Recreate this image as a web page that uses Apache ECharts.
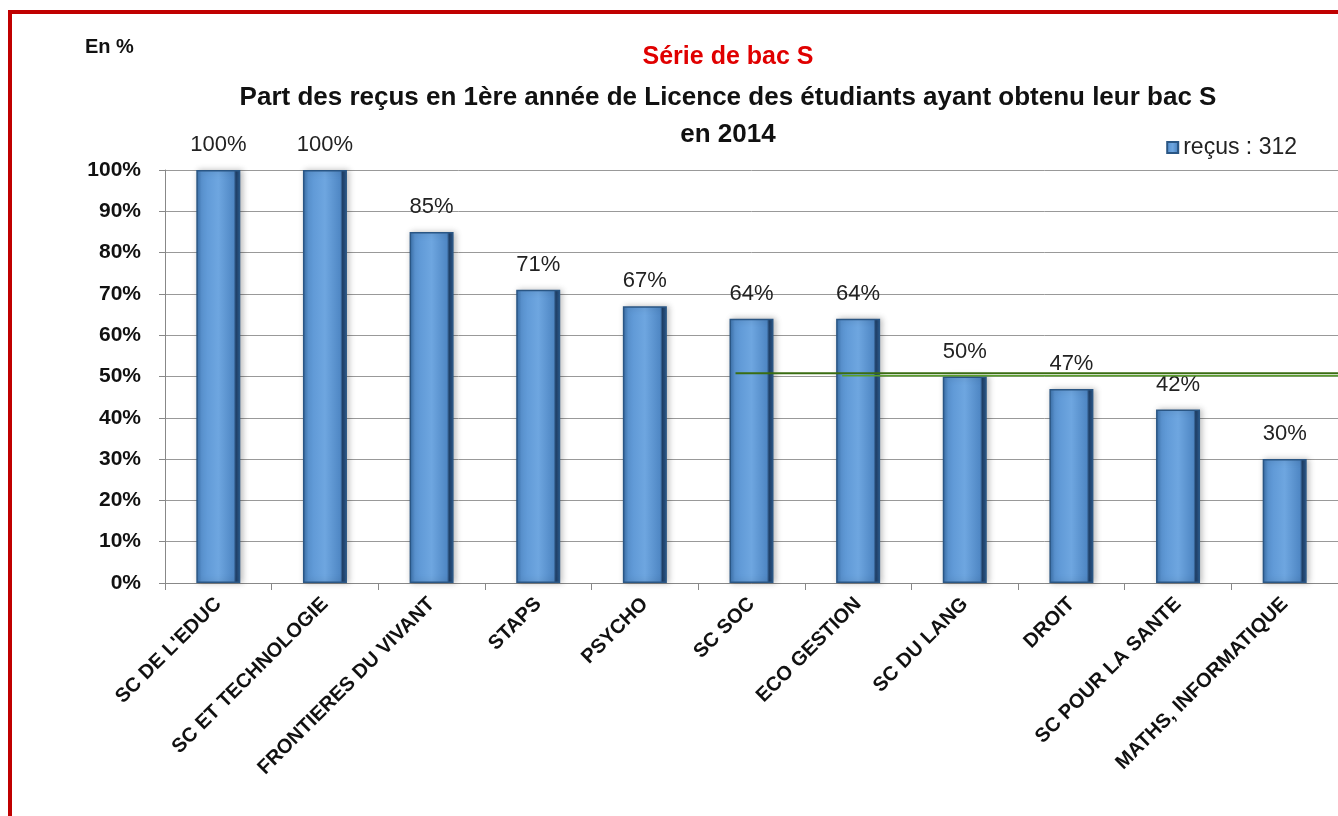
<!DOCTYPE html>
<html><head><meta charset="utf-8">
<script src="https://cdn.jsdelivr.net/npm/echarts@6/dist/echarts.min.js"></script>
<style>html,body{margin:0;padding:0;background:#fff;}#c{width:1338px;height:816px;}
#frame{position:absolute;left:8px;top:10px;width:1340px;height:820px;border:4px solid #c00000;box-sizing:border-box;pointer-events:none;}</style>
</head><body><div id="c"></div><div id="frame"></div>
<script>
const categories = ["SC DE L'EDUC","SC ET TECHNOLOGIE","FRONTIERES DU VIVANT","STAPS","PSYCHO","SC SOC","ECO GESTION","SC DU LANG","DROIT","SC POUR LA SANTE","MATHS, INFORMATIQUE"];
const recus = [100,100,85,71,67,64,64,50,47,42,30];
// reference lines drawn across the chart (category units on a hidden value axis, value in %)
const refLine1 = [[5.35,50.8],[11,50.8]];
const refLine2 = [[6.35,50.2],[11,50.2]];
const font = "'Liberation Sans', Arial, sans-serif";
const chart = echarts.init(document.getElementById('c'));
chart.setOption({
  animation:false,
  backgroundColor:'#fff',
  title:[
    {text:'Série de bac S',left:723,top:40,textAlign:'center',textStyle:{color:'#e00000',fontSize:25,fontWeight:'bold',fontFamily:font}},
    {text:'Part des reçus en 1ère année de Licence des étudiants ayant obtenu leur bac S\nen 2014',left:723,top:74,textAlign:'center',textStyle:{color:'#111',fontSize:26,fontWeight:'bold',fontFamily:font,lineHeight:37}},
    {text:'En %',left:80,top:32,textStyle:{color:'#111',fontSize:20,fontWeight:'bold',fontFamily:font}}
  ],
  legend:{right:36,top:131,itemWidth:11,itemHeight:11,itemGap:8,
    textStyle:{fontSize:23,color:'#222',fontFamily:font},
    data:[{name:'reçus : 312',icon:'rect'}]},
  grid:{left:165,right:0,top:170,bottom:233},
  xAxis:[{type:'category',data:categories,
    axisLine:{lineStyle:{color:'#888'}},
    axisTick:{show:true,length:7,lineStyle:{color:'#888'}},
    axisLabel:{rotate:45,interval:0,fontSize:20,fontWeight:'bold',color:'#111',fontFamily:font,margin:18}},
    {type:'value',min:0,max:11,show:false}],
  yAxis:{type:'value',min:0,max:100,interval:10,
    axisLine:{show:true,lineStyle:{color:'#888'}},
    axisTick:{show:true,length:6,lineStyle:{color:'#888'}},
    splitLine:{lineStyle:{color:'#999',width:1}},
    axisLabel:{formatter:v=>v+'%',fontSize:21,fontWeight:'bold',color:'#111',fontFamily:font,margin:24}},
  series:[{
    name:'reçus : 312',type:'bar',data:recus,barWidth:44,
    itemStyle:{
      color:new echarts.graphic.LinearGradient(0,0,1,0,[
        {offset:0,color:'#3a6fa8'},{offset:0.12,color:'#5b95d3'},{offset:0.5,color:'#6ea6e0'},
        {offset:0.85,color:'#4f87c4'},{offset:0.9,color:'#1f3f66'},{offset:1,color:'#2d5a8e'}]),
      borderColor:'#2a5684',borderWidth:1.5,
      shadowColor:'rgba(0,0,0,0.25)',shadowBlur:6,shadowOffsetX:2},
    label:{show:true,position:'top',distance:14,formatter:p=>p.value+'%',fontSize:22,color:'#222',fontFamily:font}
  },{
    type:'line',xAxisIndex:1,data:refLine1,symbol:'none',silent:true,z:5,
    lineStyle:{color:'#3a6d12',width:2}
  },{
    type:'line',xAxisIndex:1,data:refLine2,symbol:'none',silent:true,z:5,
    lineStyle:{color:'#5aa02c',width:1.5}
  }]
});
</script></body></html>
